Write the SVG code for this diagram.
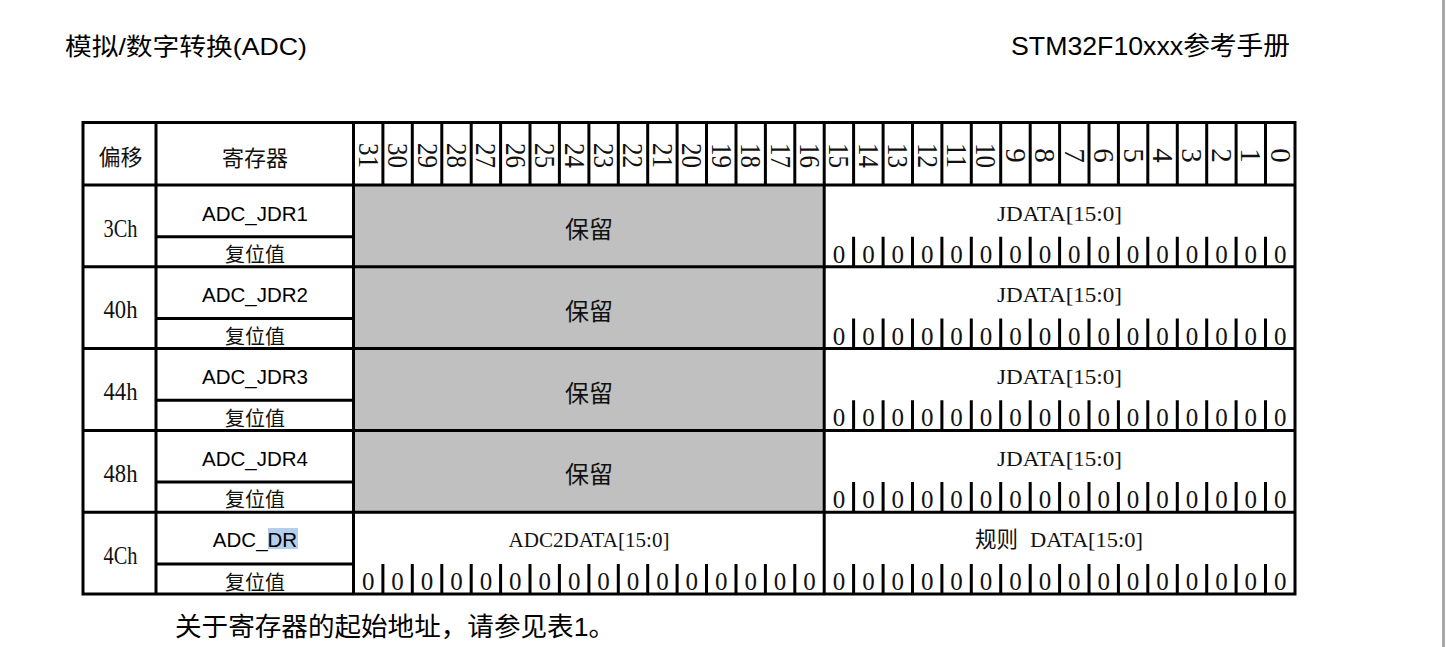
<svg xmlns="http://www.w3.org/2000/svg" xmlns:xlink="http://www.w3.org/1999/xlink" width="1451" height="647" viewBox="0 0 1451 647">
<style>
.ln{stroke:#000;stroke-width:3;fill:none}
.ser{font-family:"Liberation Serif","Noto Sans CJK SC",serif;fill:#111}
.cjk{font-family:"Noto Sans CJK SC",sans-serif;fill:#111}
.sans{font-family:"Liberation Sans","Noto Sans CJK SC",sans-serif;fill:#000}
.bit{font-size:29px;text-anchor:middle}
.zero{font-size:25px;text-anchor:middle}
.mid{text-anchor:middle}
.res{fill:#c0c0c0}
</style>
<defs>
<path id="barsR" d="M853.6 0V30.1M883.1 0V30.1M912.5 0V30.1M941.9 0V30.1M971.3 0V30.1M1000.7 0V30.1M1030.2 0V30.1M1059.6 0V30.1M1089 0V30.1M1118.4 0V30.1M1147.8 0V30.1M1177.3 0V30.1M1206.7 0V30.1M1236.1 0V30.1M1265.5 0V30.1" class="ln"/>
<path id="barsL" d="M382.9 0V30.1M412.3 0V30.1M441.8 0V30.1M471.2 0V30.1M500.6 0V30.1M530 0V30.1M559.4 0V30.1M588.9 0V30.1M618.3 0V30.1M647.7 0V30.1M677.1 0V30.1M706.5 0V30.1M736 0V30.1M765.4 0V30.1M794.8 0V30.1" class="ln"/>
<text id="zR" class="ser zero" x="838.9 868.4 897.8 927.2 956.6 986 1015.5 1044.9 1074.3 1103.7 1133.1 1162.6 1192 1221.4 1250.8 1280.2" y="0">0000000000000000</text>
<text id="zL" class="ser zero" x="368.2 397.6 427.1 456.5 485.9 515.3 544.7 574.2 603.6 633 662.4 691.8 721.3 750.7 780.1 809.5" y="0">0000000000000000</text>
</defs>
<rect width="1451" height="647" fill="#fff"/>
<rect x="1442" y="0" width="3" height="647" fill="#a8a8a8"/>

<g id="page-header">
<text class="sans" x="65" y="55" font-size="24" textLength="242" lengthAdjust="spacingAndGlyphs">模拟/数字转换(ADC)</text>
<text class="sans" x="1011" y="55" font-size="26" textLength="279" lengthAdjust="spacingAndGlyphs">STM32F10xxx参考手册</text>
</g>

<g id="reserved-fill">
<rect class="res" x="353.5" y="185" width="470.7" height="327.2"/>
</g>

<g id="header-row">
<text class="cjk mid" x="120.5" y="165" font-size="22">偏移</text>
<text class="cjk mid" x="255" y="166" font-size="22">寄存器</text>
<g class="ser bit">
<text transform="translate(358.6,155.5) rotate(90)" textLength="25" lengthAdjust="spacingAndGlyphs">31</text>
<text transform="translate(388,155.5) rotate(90)" textLength="25" lengthAdjust="spacingAndGlyphs">30</text>
<text transform="translate(417.5,155.5) rotate(90)" textLength="25" lengthAdjust="spacingAndGlyphs">29</text>
<text transform="translate(446.9,155.5) rotate(90)" textLength="25" lengthAdjust="spacingAndGlyphs">28</text>
<text transform="translate(476.3,155.5) rotate(90)" textLength="25" lengthAdjust="spacingAndGlyphs">27</text>
<text transform="translate(505.7,155.5) rotate(90)" textLength="25" lengthAdjust="spacingAndGlyphs">26</text>
<text transform="translate(535.1,155.5) rotate(90)" textLength="25" lengthAdjust="spacingAndGlyphs">25</text>
<text transform="translate(564.6,155.5) rotate(90)" textLength="25" lengthAdjust="spacingAndGlyphs">24</text>
<text transform="translate(594,155.5) rotate(90)" textLength="25" lengthAdjust="spacingAndGlyphs">23</text>
<text transform="translate(623.4,155.5) rotate(90)" textLength="25" lengthAdjust="spacingAndGlyphs">22</text>
<text transform="translate(652.8,155.5) rotate(90)" textLength="25" lengthAdjust="spacingAndGlyphs">21</text>
<text transform="translate(682.2,155.5) rotate(90)" textLength="25" lengthAdjust="spacingAndGlyphs">20</text>
<text transform="translate(711.7,155.5) rotate(90)" textLength="25" lengthAdjust="spacingAndGlyphs">19</text>
<text transform="translate(741.1,155.5) rotate(90)" textLength="25" lengthAdjust="spacingAndGlyphs">18</text>
<text transform="translate(770.5,155.5) rotate(90)" textLength="25" lengthAdjust="spacingAndGlyphs">17</text>
<text transform="translate(799.9,155.5) rotate(90)" textLength="25" lengthAdjust="spacingAndGlyphs">16</text>
<text transform="translate(829.3,155.5) rotate(90)" textLength="25" lengthAdjust="spacingAndGlyphs">15</text>
<text transform="translate(858.8,155.5) rotate(90)" textLength="25" lengthAdjust="spacingAndGlyphs">14</text>
<text transform="translate(888.2,155.5) rotate(90)" textLength="25" lengthAdjust="spacingAndGlyphs">13</text>
<text transform="translate(917.6,155.5) rotate(90)" textLength="25" lengthAdjust="spacingAndGlyphs">12</text>
<text transform="translate(947,155.5) rotate(90)" textLength="25" lengthAdjust="spacingAndGlyphs">11</text>
<text transform="translate(976.4,155.5) rotate(90)" textLength="25" lengthAdjust="spacingAndGlyphs">10</text>
<text transform="translate(1005.9,155.5) rotate(90)">9</text>
<text transform="translate(1035.3,155.5) rotate(90)">8</text>
<text transform="translate(1064.7,155.5) rotate(90)">7</text>
<text transform="translate(1094.1,155.5) rotate(90)">6</text>
<text transform="translate(1123.5,155.5) rotate(90)">5</text>
<text transform="translate(1153,155.5) rotate(90)">4</text>
<text transform="translate(1182.4,155.5) rotate(90)">3</text>
<text transform="translate(1211.8,155.5) rotate(90)">2</text>
<text transform="translate(1241.2,155.5) rotate(90)">1</text>
<text transform="translate(1270.6,155.5) rotate(90)">0</text>
</g>
</g>

<g id="row-3Ch">
<text class="ser mid" x="120.5" y="236.5" font-size="25" textLength="34" lengthAdjust="spacingAndGlyphs">3Ch</text>
<text class="sans mid" x="255" y="220.5" font-size="20.5">ADC_JDR1</text>
<text class="cjk mid" x="255" y="262" font-size="20">复位值</text>
<text class="cjk mid" x="589" y="238" font-size="24">保留</text>
<text class="ser mid" x="1059.5" y="220.5" font-size="22" textLength="125" lengthAdjust="spacingAndGlyphs">JDATA[15:0]</text>
<use xlink:href="#zR" href="#zR" y="262.7"/>
<use xlink:href="#barsR" href="#barsR" y="236.7"/>
</g>

<g id="row-40h">
<text class="ser mid" x="120.5" y="318.3" font-size="25" textLength="34" lengthAdjust="spacingAndGlyphs">40h</text>
<text class="sans mid" x="255" y="302.3" font-size="20.5">ADC_JDR2</text>
<text class="cjk mid" x="255" y="343.8" font-size="20">复位值</text>
<text class="cjk mid" x="589" y="319.8" font-size="24">保留</text>
<text class="ser mid" x="1059.5" y="302.3" font-size="22" textLength="125" lengthAdjust="spacingAndGlyphs">JDATA[15:0]</text>
<use xlink:href="#zR" href="#zR" y="344.5"/>
<use xlink:href="#barsR" href="#barsR" y="318.5"/>
</g>

<g id="row-44h">
<text class="ser mid" x="120.5" y="400.1" font-size="25" textLength="34" lengthAdjust="spacingAndGlyphs">44h</text>
<text class="sans mid" x="255" y="384.1" font-size="20.5">ADC_JDR3</text>
<text class="cjk mid" x="255" y="425.6" font-size="20">复位值</text>
<text class="cjk mid" x="589" y="401.6" font-size="24">保留</text>
<text class="ser mid" x="1059.5" y="384.1" font-size="22" textLength="125" lengthAdjust="spacingAndGlyphs">JDATA[15:0]</text>
<use xlink:href="#zR" href="#zR" y="426.3"/>
<use xlink:href="#barsR" href="#barsR" y="400.3"/>
</g>

<g id="row-48h">
<text class="ser mid" x="120.5" y="481.9" font-size="25" textLength="34" lengthAdjust="spacingAndGlyphs">48h</text>
<text class="sans mid" x="255" y="465.9" font-size="20.5">ADC_JDR4</text>
<text class="cjk mid" x="255" y="507.4" font-size="20">复位值</text>
<text class="cjk mid" x="589" y="483.4" font-size="24">保留</text>
<text class="ser mid" x="1059.5" y="465.9" font-size="22" textLength="125" lengthAdjust="spacingAndGlyphs">JDATA[15:0]</text>
<use xlink:href="#zR" href="#zR" y="508.1"/>
<use xlink:href="#barsR" href="#barsR" y="482.1"/>
</g>

<g id="row-4Ch">
<rect x="268" y="528" width="30" height="21" fill="#b3cfeb"/>
<text class="ser mid" x="120.5" y="563.5" font-size="25" textLength="34" lengthAdjust="spacingAndGlyphs">4Ch</text>
<text class="sans mid" x="255" y="547" font-size="20.5">ADC_DR</text>
<text class="cjk mid" x="255" y="589.5" font-size="20">复位值</text>
<text class="ser mid" x="589" y="547" font-size="22" textLength="161" lengthAdjust="spacingAndGlyphs">ADC2DATA[15:0]</text>
<text class="cjk" x="975" y="546.5" font-size="21.5">规则</text>
<text class="ser" x="1030" y="547" font-size="22" textLength="113" lengthAdjust="spacingAndGlyphs">DATA[15:0]</text>
<use xlink:href="#zL" href="#zL" y="589.9"/>
<use xlink:href="#zR" href="#zR" y="589.9"/>
<use xlink:href="#barsL" href="#barsL" y="563.9"/>
<use xlink:href="#barsR" href="#barsR" y="563.9"/>
</g>

<g id="grid">
<rect class="ln" x="83" y="122.5" width="1212" height="471.5"/>
<path class="ln" d="M83 185H1295M83 266.8H1295M83 348.6H1295M83 430.4H1295M83 512.2H1295M156 122.5V594M353.5 122.5V594M824.2 122.5V594M156 236.7H353.5M156 318.5H353.5M156 400.3H353.5M156 482.1H353.5M156 563.9H353.5"/>
<path class="ln" d="M382.9 122.5V185M412.3 122.5V185M441.8 122.5V185M471.2 122.5V185M500.6 122.5V185M530 122.5V185M559.4 122.5V185M588.9 122.5V185M618.3 122.5V185M647.7 122.5V185M677.1 122.5V185M706.5 122.5V185M736 122.5V185M765.4 122.5V185M794.8 122.5V185M853.6 122.5V185M883.1 122.5V185M912.5 122.5V185M941.9 122.5V185M971.3 122.5V185M1000.7 122.5V185M1030.2 122.5V185M1059.6 122.5V185M1089 122.5V185M1118.4 122.5V185M1147.8 122.5V185M1177.3 122.5V185M1206.7 122.5V185M1236.1 122.5V185M1265.5 122.5V185"/>
</g>

<g id="footnote">
<text class="sans" x="175" y="636" font-size="26" textLength="440" lengthAdjust="spacingAndGlyphs">关于寄存器的起始地址，请参见表1。</text>
</g>
</svg>
